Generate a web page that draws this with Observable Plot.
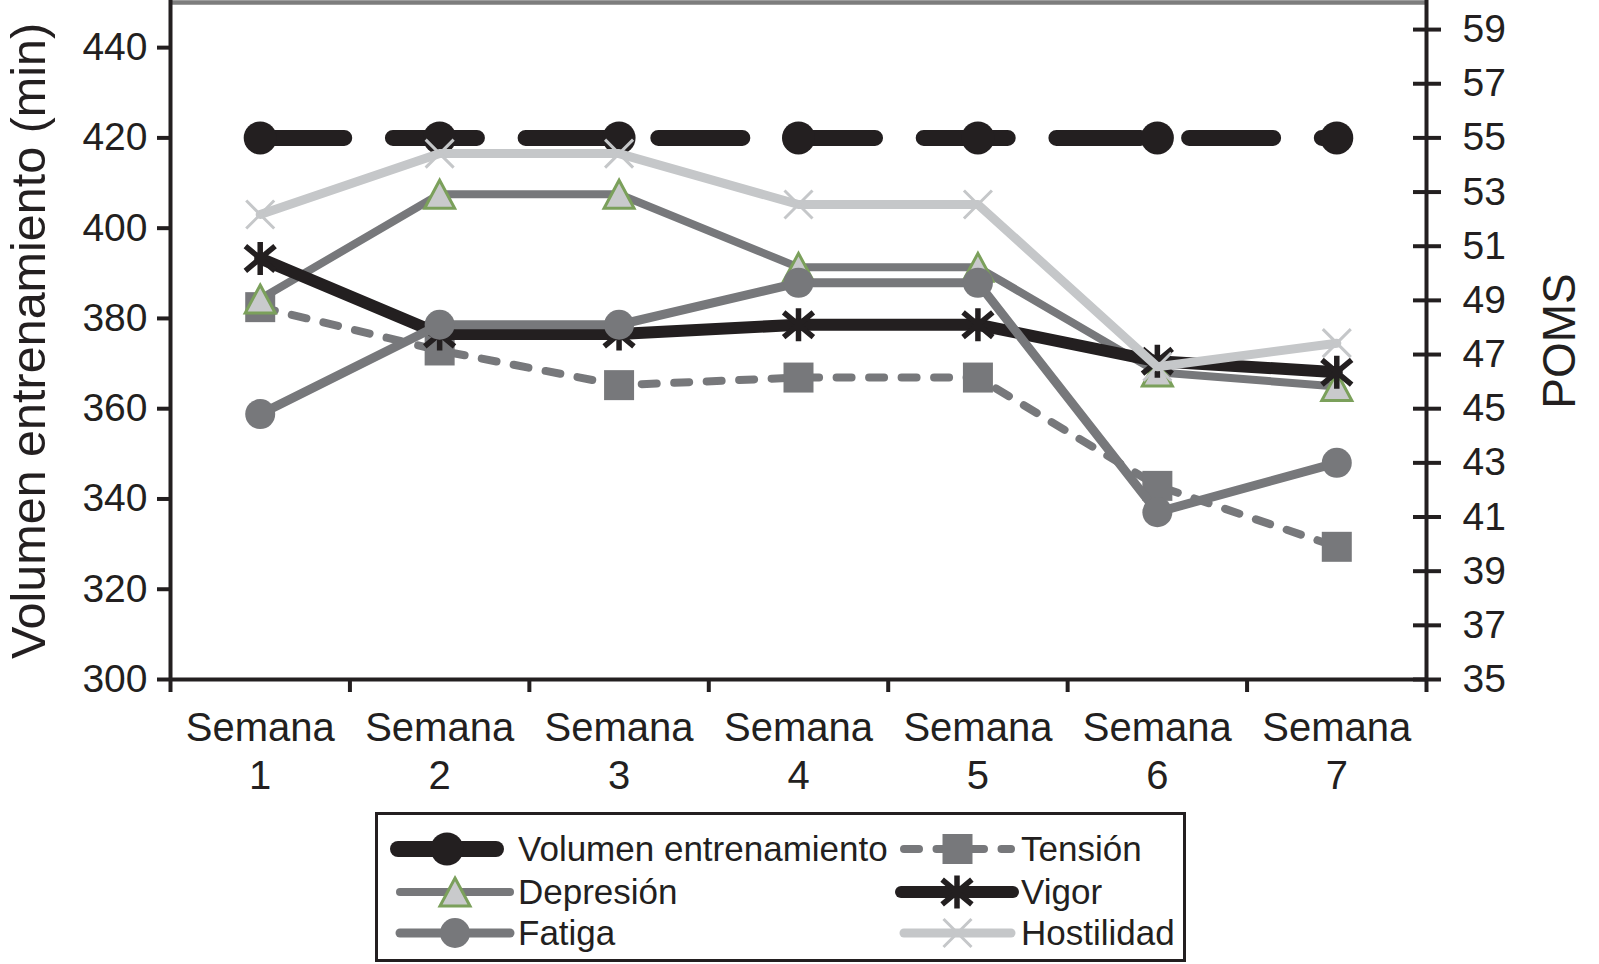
<!DOCTYPE html>
<html><head><meta charset="utf-8">
<script src="https://cdn.jsdelivr.net/npm/d3@7"></script>
<script src="https://cdn.jsdelivr.net/npm/@observablehq/plot@0.6"></script>
<style>
body{margin:0;background:#fff;font-family:"Liberation Sans",Arial,sans-serif;color:#231f20;}
#legend{margin-left:375px;margin-top:6px;width:811px;height:150px;border:3px solid #231f20;box-sizing:border-box;}
#legend svg{display:block;}
</style></head><body>
<div id="chart"></div>
<div id="legend"></div>
<script>
// ---- data ----
const weeks = [1, 2, 3, 4, 5, 6, 7];
const weekPrefix = "Semana";
const volumen = [420, 420, 420, 420, 420, 420, 420];
const tension = [48.75, 47.15, 45.87, 46.15, 46.15, 42.15, 39.9];
const depresion = [49.05, 52.92, 52.92, 50.22, 50.22, 46.35, 45.82];
const vigor = [50.55, 47.76, 47.76, 48.1, 48.1, 46.75, 46.35];
const fatiga = [44.8, 48.1, 48.1, 49.65, 49.65, 41.18, 43.0];
const hostilidad = [52.17, 54.42, 54.42, 52.54, 52.54, 46.55, 47.42];
const minTicks = [300, 320, 340, 360, 380, 400, 420, 440];
const pomsTicks = [35, 37, 39, 41, 43, 45, 47, 49, 51, 53, 55, 57, 59];
const weekBounds = [0.5, 1.5, 2.5, 3.5, 4.5, 5.5, 6.5, 7.5];
const seriesNames = ["Volumen entrenamiento", "Tensión", "Depresión", "Vigor", "Fatiga", "Hostilidad"];
const leftTitle = "Volumen entrenamiento (min)";
const rightTitle = "POMS";

// POMS axis (right) shares the frame with minutes axis (left): 35..60 <-> 300..450
const toMin = p => 300 + (p - 35) * 6;
const fromMin = v => 35 + (v - 300) / 6;

// ---- styles ----
const BLACK = "#231f20", GRAY = "#77787b", LIGHT = "#c5c7c9", TRIFILL = "#c9cacc", GREEN = "#7ba05b", TOPLINE = "#7d7d7d";
const mk = f => ({draw(ctx, size) { f(ctx, Math.sqrt(size / Math.PI)); }});
const symSquare = mk((c, r) => { c.moveTo(-r, -r); c.lineTo(r, -r); c.lineTo(r, r); c.lineTo(-r, r); c.closePath(); });
const symTriangle = mk((c, r) => { c.moveTo(0, -r * 0.93); c.lineTo(r, r * 0.93); c.lineTo(-r, r * 0.93); c.closePath(); });
const symStar = mk((c, r) => { c.moveTo(0, -r); c.lineTo(0, r); c.moveTo(-r * 0.9, -r * 0.75); c.lineTo(r * 0.9, r * 0.75); c.moveTo(-r * 0.9, r * 0.75); c.lineTo(r * 0.9, -r * 0.75); });
const symTimes = mk((c, r) => { c.moveTo(-r, -r); c.lineTo(r, r); c.moveTo(-r, r); c.lineTo(r, -r); });
const symCircle = mk((c, r) => { c.moveTo(r, 0); c.arc(0, 0, r, 0, 2 * Math.PI); });

const series = [
  {name: seriesNames[0], vals: volumen, toY: v => v, line: {stroke: BLACK, strokeWidth: 16, strokeDasharray: "84,48.7"}, dot: {symbol: symCircle, r: 16.5, fill: BLACK, stroke: "none"}},
  {name: seriesNames[1], vals: tension, toY: toMin, line: {stroke: GRAY, strokeWidth: 8, strokeDasharray: "15,17.5"}, dot: {symbol: symSquare, r: 15, fill: GRAY, stroke: "none"}},
  {name: seriesNames[2], vals: depresion, toY: toMin, line: {stroke: GRAY, strokeWidth: 8}, dot: {symbol: symTriangle, r: 15, fill: TRIFILL, stroke: GREEN, strokeWidth: 3}},
  {name: seriesNames[3], vals: vigor, toY: toMin, line: {stroke: BLACK, strokeWidth: 12}, dot: {symbol: symStar, r: 16.5, fill: "none", stroke: BLACK, strokeWidth: 5.5}},
  {name: seriesNames[4], vals: fatiga, toY: toMin, line: {stroke: GRAY, strokeWidth: 9}, dot: {symbol: symCircle, r: 15, fill: GRAY, stroke: "none"}},
  {name: seriesNames[5], vals: hostilidad, toY: toMin, line: {stroke: LIGHT, strokeWidth: 9}, dot: {symbol: symTimes, r: 14, fill: "none", stroke: LIGHT, strokeWidth: 3}}
];

const seriesMarks = series.flatMap(s => {
  const rows = weeks.map((w, i) => ({week: w, y: s.toY(s.vals[i])}));
  return [
    Plot.line(rows, {x: "week", y: "y", strokeLinecap: "round", strokeLinejoin: "round", ...s.line}),
    Plot.dot(rows, {x: "week", y: "y", ...s.dot})
  ];
});

const chart = Plot.plot({
  width: 1599, height: 806,
  marginLeft: 170, marginRight: 173, marginTop: 2, marginBottom: 127,
  x: {type: "linear", domain: [0.5, 7.5]},
  y: {domain: [300, 450]},
  style: {fontFamily: "'Liberation Sans', Arial, sans-serif", color: BLACK, background: "#fff", overflow: "visible"},
  marks: [
    Plot.ruleY([450], {stroke: TOPLINE, strokeWidth: 4.5}),
    ...seriesMarks,
    Plot.ruleY([300], {stroke: BLACK, strokeWidth: 4}),
    Plot.ruleX([0.5, 7.5], {stroke: BLACK, strokeWidth: 4, insetTop: -2}),
    Plot.axisX(weekBounds, {anchor: "bottom", tickSize: 13, stroke: BLACK, strokeWidth: 4, fill: "none", label: null}),
    Plot.axisX(weeks, {anchor: "bottom", tickSize: 0, tickPadding: 27, fontSize: 40, lineHeight: 1.2, tickFormat: d => `${weekPrefix}\n${d}`, label: null}),
    Plot.axisY(minTicks, {anchor: "left", tickSize: 13, tickPadding: 10, fontSize: 39, stroke: BLACK, strokeWidth: 4, label: null}),
    Plot.axisY(pomsTicks.map(toMin), {anchor: "right", tickSize: 28, dx: -14, tickPadding: 22, fontSize: 39, stroke: BLACK, strokeWidth: 4, tickFormat: v => String(Math.round(fromMin(v))), label: null}),
    Plot.text([leftTitle], {frameAnchor: "left", dx: -141, rotate: -90, textAnchor: "middle", fontSize: 48.5, fill: BLACK}),
    Plot.text([rightTitle], {frameAnchor: "right", dx: 134, rotate: -90, textAnchor: "middle", fontSize: 46, fill: BLACK})
  ]
});
document.getElementById("chart").appendChild(chart);

// ---- legend ----
const legendPos = [
  {col: 0, row: 0, x0: 20, x1: 118},
  {col: 1, row: 0, x0: 526, x1: 633},
  {col: 0, row: 1, x0: 22, x1: 132},
  {col: 1, row: 1, x0: 523, x1: 635},
  {col: 0, row: 2, x0: 22, x1: 132},
  {col: 1, row: 2, x0: 526, x1: 633}
];
const textX = [140, 643];
const rowY = [34, 77, 118];
const lsvg = d3.select("#legend").append("svg").attr("width", 805).attr("height", 144);
series.forEach((s, i) => {
  const p = legendPos[i], y = rowY[p.row];
  const g = lsvg.append("g");
  g.append("line").attr("x1", p.x0).attr("x2", p.x1).attr("y1", y).attr("y2", y)
    .attr("stroke", s.line.stroke).attr("stroke-width", s.line.strokeWidth)
    .attr("stroke-linecap", "round")
    .attr("stroke-dasharray", i === 1 ? "15,17.5" : null);
  const path = d3.path();
  s.dot.symbol.draw(path, s.dot.r * s.dot.r * Math.PI);
  g.append("path").attr("d", path.toString())
    .attr("transform", `translate(${(p.x0 + p.x1) / 2},${y})`)
    .attr("fill", s.dot.fill).attr("stroke", s.dot.stroke)
    .attr("stroke-width", s.dot.strokeWidth || 0);
  g.append("text").attr("x", textX[p.col]).attr("y", y).attr("dy", "0.35em")
    .attr("font-size", 35).attr("fill", BLACK)
    .attr("font-family", "'Liberation Sans', Arial, sans-serif")
    .text(s.name);
});
</script>
</body></html>
